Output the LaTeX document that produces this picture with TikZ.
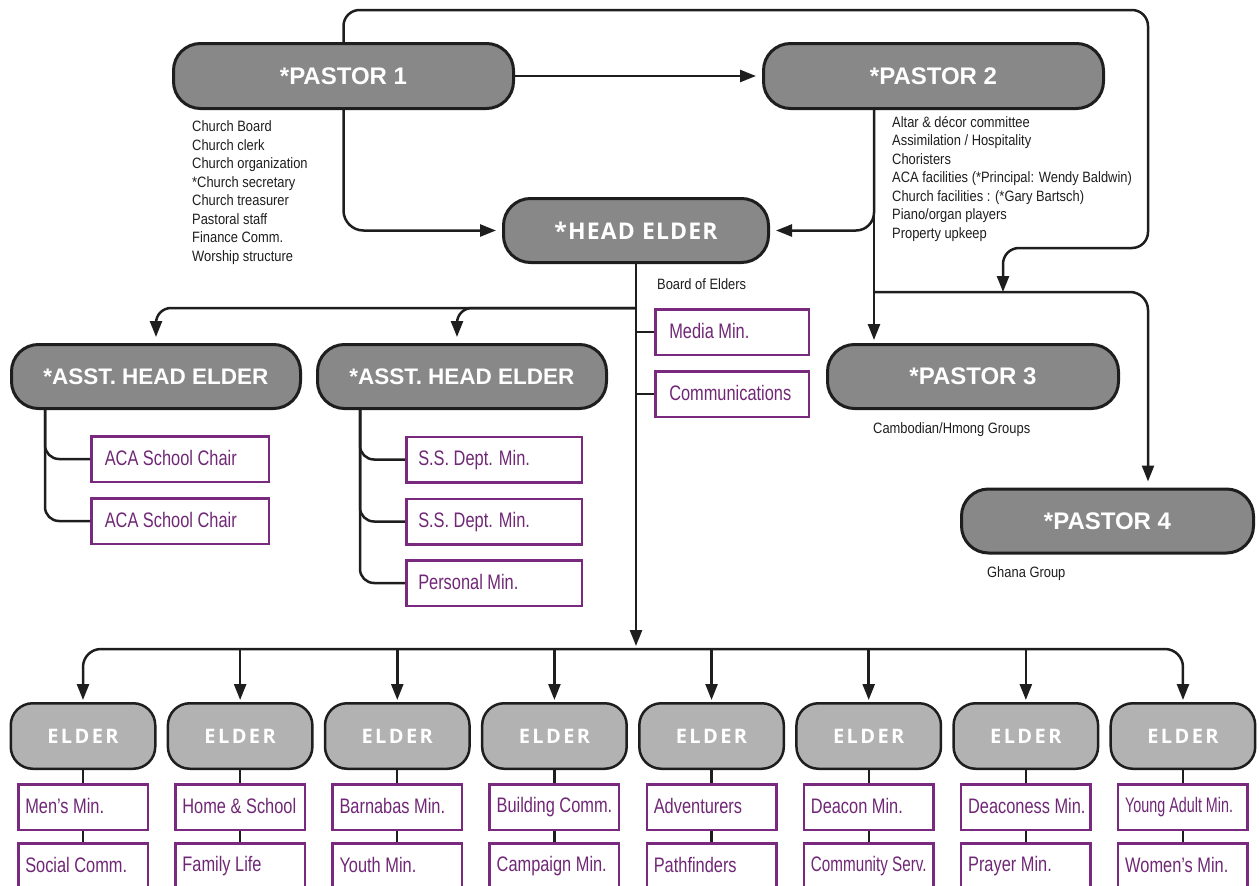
\documentclass[tikz,border=0pt]{standalone}
\usepackage{fontspec}
\usepackage{graphicx}
\setmainfont{Liberation Sans}
\newfontfamily\condfont{Liberation Sans}[FakeStretch=0.86]
\newfontfamily\pcondfont{Liberation Sans}[FakeStretch=0.78]
\newfontfamily\frutfont{Open Sans}
\usetikzlibrary{arrows.meta}
\definecolor{darkbox}{RGB}{136,136,137}
\definecolor{lightbox}{RGB}{178,178,178}
\definecolor{purp}{RGB}{122,42,126}
\definecolor{purptext}{RGB}{112,40,118}
\definecolor{ink}{RGB}{30,30,30}
\newcommand\boxtxt[3]{\makebox[#1pt][l]{\hspace{#2pt}\rule[-4pt]{0pt}{20pt}#3}}
\begin{document}
\begin{tikzpicture}[x=1pt,y=-1pt,
  bigbox/.style={draw=ink, line width=3pt, fill=darkbox, rounded corners=27pt,
    minimum height=65pt, text=white, inner sep=0pt,
    font=\fontsize{24}{24}\selectfont\bfseries},
  asstfont/.style={font=\fontsize{22.5}{22.5}\selectfont\bfseries},
  headfont/.style={font=\frutfont\bfseries\fontsize{23}{23}\selectfont\addfontfeature{LetterSpace=5}},
  eldbox/.style={draw=ink, line width=2.5pt, fill=lightbox, rounded corners=22pt,
    minimum width=144.5pt, minimum height=65.5pt, text=white, inner sep=0pt,
    font=\frutfont\bfseries\fontsize{20}{20}\selectfont\addfontfeature{LetterSpace=12}},
  pbox/.style={draw=purp, line width=2.5pt, fill=white, minimum height=45.5pt,
    inner xsep=0pt, inner ysep=0pt, text=purptext,
    font=\pcondfont\fontsize{21}{21}\selectfont},
  lst/.style={inner sep=0pt, align=left, text=ink,
    font=\condfont\fontsize{15}{18.5}\selectfont},
  conn/.style={draw=ink, line width=2.5pt},
  sconn/.style={draw=ink, line width=2.2pt},
  arr/.style={conn, -{Triangle[length=16pt,width=12pt]}},
  arrboth/.style={conn, {Triangle[length=16pt,width=12pt]}-{Triangle[length=16pt,width=12pt]}}
]
\useasboundingbox (0,0) rectangle (1259,886);
\clip (0,0) rectangle (1259,886);

% main boxes
\node[bigbox, minimum width=340pt] (P1) at (343.5,76) {*PASTOR 1};
\node[bigbox, minimum width=340pt] (P2) at (933.5,76) {*PASTOR 2};
\node[bigbox, minimum width=265pt, minimum height=64pt, headfont] (HE) at (636,230.5) {*HEAD ELDER};
\node[bigbox, minimum width=289pt, minimum height=64pt, asstfont] (A1) at (156,376.5) {*ASST. HEAD ELDER};
\node[bigbox, minimum width=289pt, minimum height=64pt, asstfont] (A2) at (462,376.5) {*ASST. HEAD ELDER};
\node[bigbox, minimum width=291pt, minimum height=64pt] (P3) at (973,376.5) {*PASTOR 3};
\node[bigbox, minimum width=292pt, minimum height=64pt] (P4) at (1107.5,521) {*PASTOR 4};

% text lists
\node[lst, anchor=north west] (L1) at (192,120.5) {Church Board\\Church clerk\\Church organization\\*Church secretary\\Church treasurer\\Pastoral staff\\Finance Comm.\\Worship structure};
\node[lst, anchor=north west] (L2) at (892,116) {Altar \& décor committee\\Assimilation / Hospitality\\Choristers\\ACA facilities (*Principal: Wendy Baldwin)\\Church facilities : (*Gary Bartsch)\\Piano/organ players\\Property upkeep};
\node[lst, anchor=base west] (BE) at (657,289) {Board of Elders};
\node[lst, anchor=base west] (CH) at (873,433) {Cambodian/Hmong Groups};
\node[lst, anchor=base west] (GG) at (987,577) {Ghana Group};

% purple boxes near head elder
\node[pbox] (M) at (732,332) {\boxtxt{153.5}{14}{Media Min.}};
\node[pbox] (C) at (732,394) {\boxtxt{153.5}{14}{Communications}};
\node[pbox] (AC1) at (180,459) {\boxtxt{177.5}{13.5}{ACA School Chair}};
\node[pbox] (AC2) at (180,521) {\boxtxt{177.5}{13.5}{ACA School Chair}};
\node[pbox] (SS1) at (494,459.5) {\boxtxt{175.5}{12}{S.S. Dept. Min.}};
\node[pbox] (SS2) at (494,521.5) {\boxtxt{175.5}{12}{S.S. Dept. Min.}};
\node[pbox] (PM) at (494,583) {\boxtxt{175.5}{12}{Personal Min.}};

% elders row
\foreach \i/\a/\b in {0/{Men’s Min.}/{Social Comm.},
  1/{Home \& School}/{Family Life},
  2/{Barnabas Min.}/{Youth Min.},
  3/{Building Comm.}/{Campaign Min.},
  4/{Adventurers}/{Pathfinders},
  5/{Deacon Min.}/{\scalebox{0.93}[1]{Community Serv.}},
  6/{Deaconess Min.}/{Prayer Min.},
  7/{\scalebox{0.875}[1]{Young Adult Min.}}/{Women’s Min.}}{
  \node[eldbox] (E\i) at (83+157.14*\i,736) {ELDER};
  \node[pbox] (B\i) at (83+157.14*\i,807) {\boxtxt{129.5}{7}{\a}};
  \node[pbox] (D\i) at (83+157.14*\i,866) {\boxtxt{129.5}{7}{\b}};
  \draw[sconn] (E\i.south) -- (B\i.north);
  \draw[sconn] (B\i.south) -- (D\i.north);
}

% coordinates for junctions
\coordinate (c2) at (874,110);
\coordinate (c4) at (1148,292);
\coordinate (j4) at (1003,292);
\coordinate (ha) at (636,308);
\coordinate (hb) at (636,649);
\coordinate (x45) at (45,0);
\coordinate (x360) at (360,0);

% connectors
\draw[arr, shorten >=6pt] (P1) -- (P2);
\draw[arr, rounded corners=16pt] (P1.north) -- (P1.north |- 0,10) -- (1148,10) -- (1148,248) -- (1003,248) -- (j4);
\draw[arr, rounded corners=20pt, shorten >=6pt] (P1.south) |- (HE.west);
\draw[arr, rounded corners=18pt, shorten >=6pt] (P2.south -| c2) |- (HE.east);
\draw[arr, shorten >=3pt] (P2.south -| c2) -- (P3.north -| c2);
\draw[arr, rounded corners=18pt, shorten >=6pt] (c2 |- c4) -- (c4) -- (P4.north -| c4);

\draw[arr, shorten >=3pt] (HE.south) -- (hb);
\draw[arr, rounded corners=15pt, shorten >=6pt] (ha) -| (A1.north);
\draw[arr, rounded corners=15pt, shorten >=6pt] (ha) -| ([xshift=-5pt]A2.north);
\draw[sconn] (HE.south |- M.west) -- (M.west);
\draw[sconn] (HE.south |- C.west) -- (C.west);

\draw[conn, rounded corners=14pt] (A1.south -| x45) |- (AC1.west);
\draw[conn, rounded corners=14pt] (A1.south -| x45) |- (AC2.west);
\draw[conn, rounded corners=14pt] (A2.south -| x360) |- (SS1.west);
\draw[conn, rounded corners=14pt] (A2.south -| x360) |- (SS2.west);
\draw[conn, rounded corners=14pt] (A2.south -| x360) |- (PM.west);

\draw[arrboth, rounded corners=18pt, shorten <=2pt, shorten >=2pt] (E0.north) |- (hb) -| (E7.north);
\foreach \i in {1,...,6}{
  \draw[arr, shorten >=2pt] (E\i.north |- hb) -- (E\i.north);
}
\end{tikzpicture}
\end{document}
